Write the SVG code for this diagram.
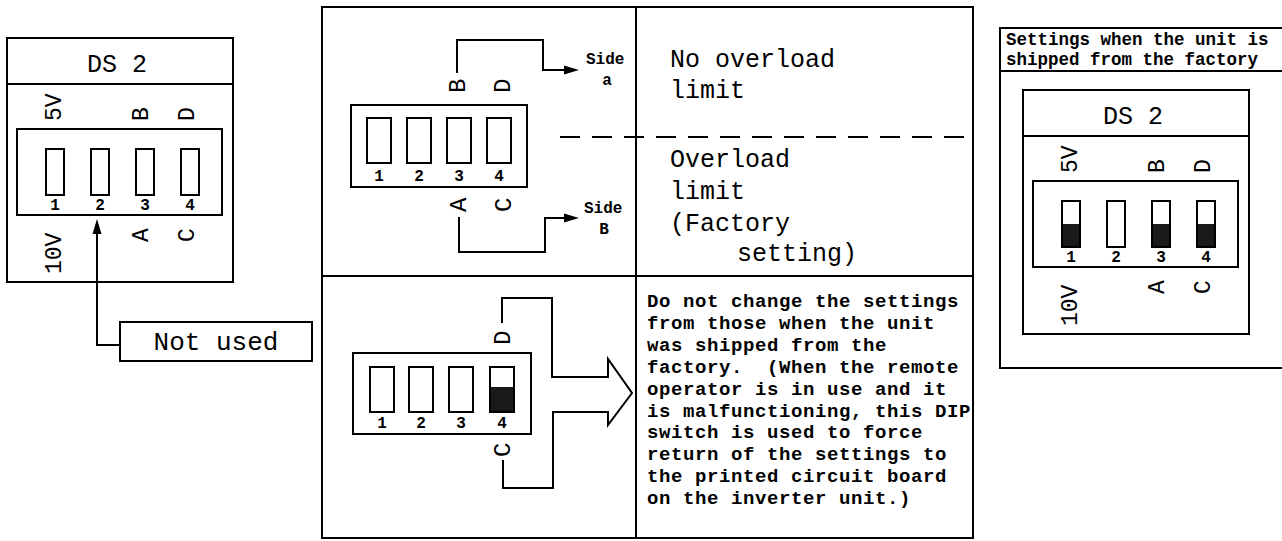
<svg xmlns="http://www.w3.org/2000/svg" width="1282" height="541" viewBox="0 0 1282 541">
<style>
.ln{fill:none;stroke:#000;stroke-width:2}
.sw{fill:#fff;stroke:#000;stroke-width:2}
.blk{fill:#1a1a1a}
.t{font-family:"Liberation Mono",monospace;fill:#000}
.rot{font-size:23px}
.rot2{font-size:24px}
.num{font-size:16px;font-weight:bold}
.big{font-size:25px}
.sm{font-size:16px;font-weight:bold}
.note{font-size:19px;font-weight:bold;letter-spacing:0.6px}
.ttl{font-size:17.5px;font-weight:bold}
</style>
<defs>
<g id="ds2">
<rect class="ln" x="0" y="0" width="226" height="244"/>
<line class="ln" x1="0" y1="46" x2="226" y2="46"/>
<text class="t big" x="110" y="34" text-anchor="middle">DS 2</text>
<text class="t rot" transform="translate(54,83) rotate(-90)">5V</text>
<text class="t rot" transform="translate(141,83) rotate(-90)">B</text>
<text class="t rot" transform="translate(187,83) rotate(-90)">D</text>
<rect class="ln" x="10" y="91" width="205" height="86"/>
<rect class="sw" x="39" y="111" width="18" height="46"/>
<rect class="sw" x="84" y="111" width="18" height="46"/>
<rect class="sw" x="129" y="111" width="18" height="46"/>
<rect class="sw" x="174" y="111" width="18" height="46"/>
<text class="t num" x="48" y="172" text-anchor="middle">1</text>
<text class="t num" x="93" y="172" text-anchor="middle">2</text>
<text class="t num" x="138" y="172" text-anchor="middle">3</text>
<text class="t num" x="183" y="172" text-anchor="middle">4</text>
<text class="t rot" transform="translate(54,236) rotate(-90)">10V</text>
<text class="t rot" transform="translate(141,204) rotate(-90)">A</text>
<text class="t rot" transform="translate(187,204) rotate(-90)">C</text>
</g>
</defs>

<g id="ds2-left">
<use href="#ds2" transform="translate(7,38)"/>
</g>

<g id="not-used">
<rect class="ln" x="120" y="322" width="192" height="39"/>
<text class="t" x="216" y="350" font-size="26" text-anchor="middle">Not used</text>
</g>

<g id="middle-panel">
<rect class="ln" x="322" y="7" width="651" height="531"/>
<line class="ln" x1="636" y1="7" x2="636" y2="538"/>
<line class="ln" x1="322" y1="276" x2="973" y2="276"/>
<line class="ln" x1="560" y1="137" x2="973" y2="137" stroke-dasharray="20 12"/>
</g>

<g id="dip-top">
<rect class="ln" x="351" y="105" width="176" height="82"/>
<rect class="sw" x="367" y="118" width="24" height="45"/>
<rect class="sw" x="407" y="118" width="24" height="45"/>
<rect class="sw" x="447" y="118" width="24" height="45"/>
<rect class="sw" x="487" y="118" width="24" height="45"/>
<text class="t num" x="379" y="181" text-anchor="middle">1</text>
<text class="t num" x="419" y="181" text-anchor="middle">2</text>
<text class="t num" x="459" y="181" text-anchor="middle">3</text>
<text class="t num" x="499" y="181" text-anchor="middle">4</text>
<text class="t rot2" transform="translate(465,93) rotate(-90)">B</text>
<text class="t rot2" transform="translate(510,93) rotate(-90)">D</text>
<text class="t rot2" transform="translate(466,212) rotate(-90)">A</text>
<text class="t rot2" transform="translate(511,212) rotate(-90)">C</text>
</g>

<g id="side-a">
<text class="t sm" x="586" y="64">Side</text>
<text class="t sm" x="607" y="85" text-anchor="middle">a</text>
</g>
<g id="side-b">
<text class="t sm" x="584" y="213">Side</text>
<text class="t sm" x="604" y="234" text-anchor="middle">B</text>
</g>

<g id="no-overload">
<text class="t big" x="670" y="67">No overload</text>
<text class="t big" x="670" y="98">limit</text>
</g>
<g id="overload">
<text class="t big" x="670" y="167">Overload</text>
<text class="t big" x="670" y="199">limit</text>
<text class="t big" x="670" y="231">(Factory</text>
<text class="t big" x="737" y="261">setting)</text>
</g>

<g id="dip-bottom">
<rect class="ln" x="353" y="353" width="178" height="81"/>
<rect class="sw" x="370" y="367" width="24" height="45"/>
<rect class="sw" x="409" y="367" width="24" height="45"/>
<rect class="sw" x="449" y="367" width="24" height="45"/>
<rect class="sw" x="490" y="367" width="24" height="45"/>
<rect class="blk" x="491" y="387" width="22" height="24"/>
<text class="t num" x="382" y="428" text-anchor="middle">1</text>
<text class="t num" x="421" y="428" text-anchor="middle">2</text>
<text class="t num" x="461" y="428" text-anchor="middle">3</text>
<text class="t num" x="502" y="428" text-anchor="middle">4</text>
<text class="t rot2" transform="translate(510,345) rotate(-90)">D</text>
<text class="t rot2" transform="translate(510,457) rotate(-90)">C</text>
</g>

<g id="note">
<text class="t note">
<tspan x="647" y="307">Do not change the settings</tspan>
<tspan x="647" y="329">from those when the unit</tspan>
<tspan x="647" y="351">was shipped from the</tspan>
<tspan x="647" y="373" style="white-space:pre">factory.  (When the remote</tspan>
<tspan x="647" y="395">operator is in use and it</tspan>
<tspan x="647" y="417">is malfunctioning, this DIP</tspan>
<tspan x="647" y="438">switch is used to force</tspan>
<tspan x="647" y="460">return of the settings to</tspan>
<tspan x="647" y="482">the printed circuit board</tspan>
<tspan x="647" y="504">on the inverter unit.)</tspan>
</text>
</g>

<g id="factory-panel">
<rect class="ln" x="1000" y="28" width="300" height="340"/>
<line class="ln" x1="1000" y1="71" x2="1282" y2="71"/>
<text class="t ttl" x="1006" y="45">Settings when the unit is</text>
<text class="t ttl" x="1006" y="65">shipped from the factory</text>
</g>

<g id="ds2-right">
<use href="#ds2" transform="translate(1023,90)"/>
<rect class="blk" x="1063" y="224" width="16" height="22"/>
<rect class="blk" x="1153" y="224" width="16" height="22"/>
<rect class="blk" x="1198" y="224" width="16" height="22"/>
</g>

<g id="connectors">
<path class="ln" d="M97,232 V345 H120"/>
<polygon points="97,219 92.5,234 101.5,234" fill="#000"/>
<path class="ln" d="M457,73 V40 H543 V70 H566"/>
<polygon points="579,70 564,65.5 564,74.5" fill="#000"/>
<path class="ln" d="M459,217 V252 H545 V218 H566"/>
<polygon points="579,218 564,213.5 564,222.5" fill="#000"/>
<path class="ln" stroke-linejoin="miter" d="M502,323 V298 H552 V377 H608 V359 L632,393 L608,425 V412 H553 V488 H503 V460"/>
</g>
</svg>
